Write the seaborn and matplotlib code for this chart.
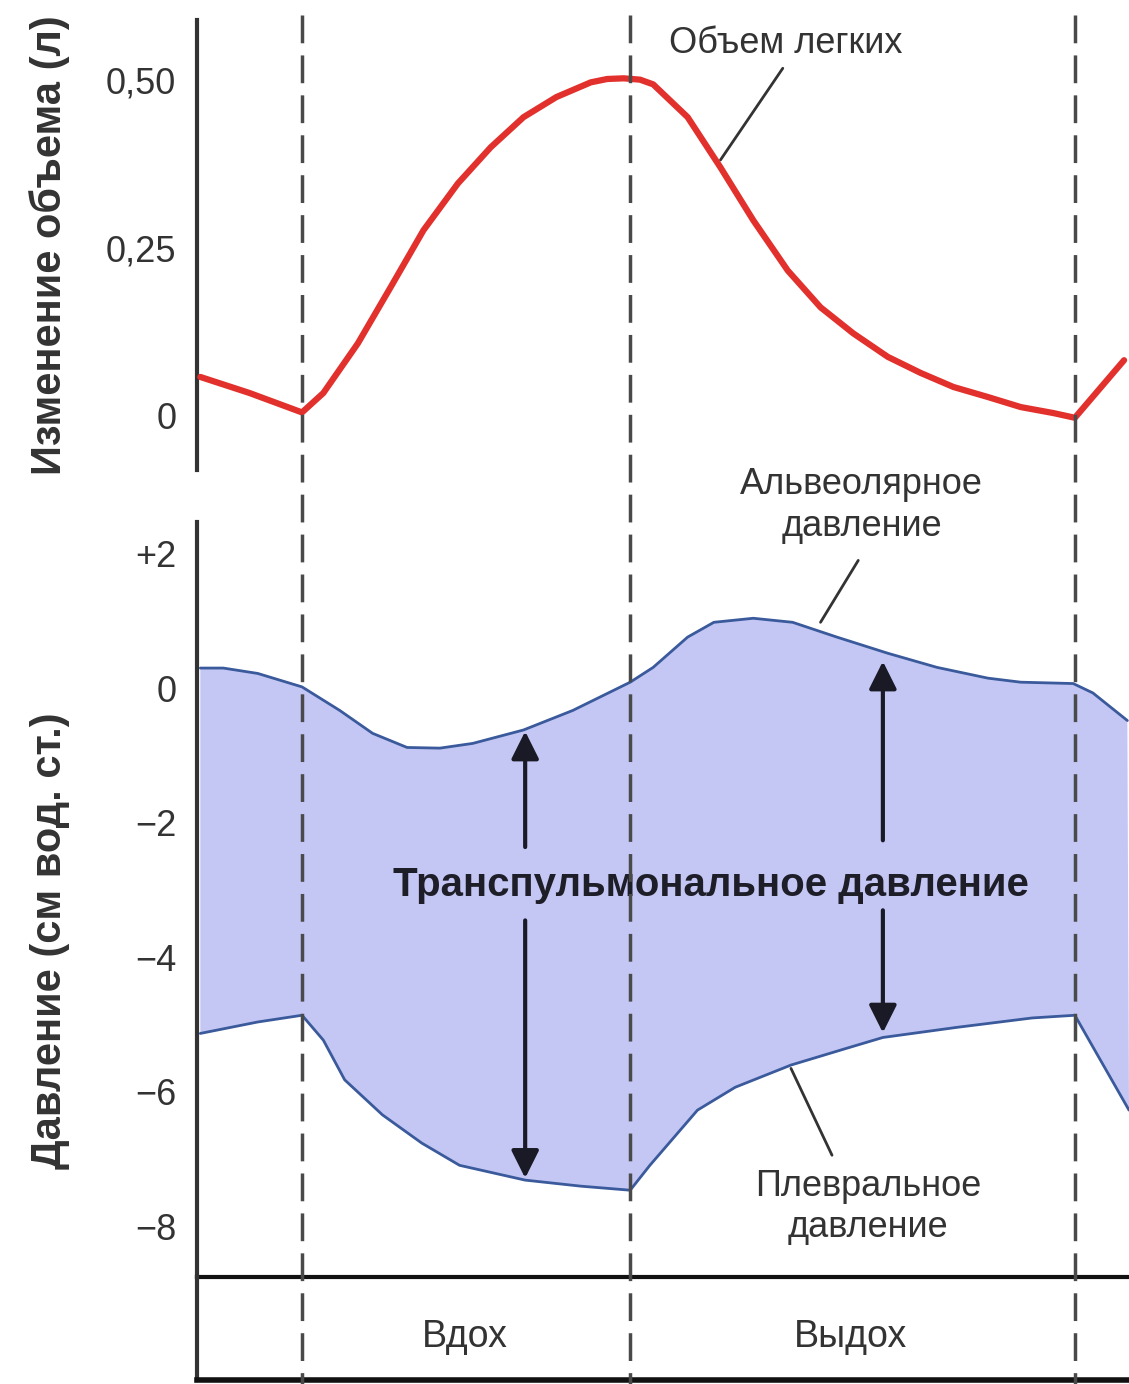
import numpy as np
import pandas as pd
import seaborn as sns
import matplotlib.pyplot as plt
from matplotlib.lines import Line2D
from matplotlib import transforms

# ========= 1) DATA (read off the reference) =========
# time axis (s), boundaries between phases
phase_bounds = [0.0, 2.0, 4.71]
phase_names = ["Вдох", "Выдох"]

# lung volume change (l)
vol_t = [-0.62, -0.32, 0.0, 0.13, 0.34, 0.54, 0.74, 0.95, 1.15, 1.35, 1.55, 1.76, 1.86,
         1.96, 2.06, 2.14, 2.35, 2.55, 2.75, 2.96, 3.16, 3.36, 3.57, 3.77, 3.97, 4.18,
         4.38, 4.58, 4.71, 5.01]
vol_l = [0.057, 0.033, 0.004, 0.033, 0.107, 0.191, 0.276, 0.346, 0.400, 0.445, 0.475, 0.497, 0.502,
         0.503, 0.501, 0.494, 0.445, 0.370, 0.291, 0.216, 0.161, 0.122, 0.087, 0.063, 0.042, 0.027,
         0.012, 0.003, -0.004, 0.082]

# alveolar pressure (cm H2O)
alv_t = [-0.62, -0.48, -0.27, 0.0, 0.23, 0.43, 0.64, 0.84, 1.04, 1.35, 1.65, 2.0,
         2.14, 2.35, 2.51, 2.75, 2.99, 3.26, 3.57, 3.87, 4.18, 4.38, 4.70, 4.82, 5.03]
alv_p = [0.30, 0.30, 0.22, 0.02, -0.33, -0.67, -0.88, -0.89, -0.82, -0.62, -0.33, 0.09,
         0.31, 0.76, 0.98, 1.04, 0.98, 0.76, 0.52, 0.31, 0.15, 0.09, 0.07, -0.07, -0.48]

# pleural pressure (cm H2O)
ple_t = [-0.62, -0.27, 0.0, 0.13, 0.26, 0.49, 0.73, 0.96, 1.36, 1.70, 2.0, 2.12,
         2.41, 2.64, 2.98, 3.32, 3.54, 3.99, 4.45, 4.71, 5.04]
ple_p = [-5.13, -4.96, -4.86, -5.23, -5.82, -6.34, -6.76, -7.09, -7.31, -7.40, -7.46, -7.09,
         -6.27, -5.93, -5.60, -5.35, -5.19, -5.04, -4.90, -4.86, -6.27]

vol_ticks = [0, 0.25, 0.50]
vol_ticklabels = ["0", "0,25", "0,50"]
p_ticks = [2, 0, -2, -4, -6, -8]
p_ticklabels = ["+2", "0", "\u22122", "\u22124", "\u22126", "\u22128"]

vol_df = pd.DataFrame({"t": vol_t, "v": vol_l})
alv_df = pd.DataFrame({"t": alv_t, "p": alv_p})
ple_df = pd.DataFrame({"t": ple_t, "p": ple_p})

# ========= 2) STYLE =========
sns.set_theme(style="white")
plt.rcParams["font.family"] = ["Liberation Sans", "DejaVu Sans"]

TXT = "#333333"
RED = "#e2302c"
FILL = "#c4c7f4"
EDGE = "#3a5a9c"
XLIM = (-0.64, 5.04)

fig = plt.figure(figsize=(11.29, 13.84), dpi=100)
ax_v = fig.add_axes([0.1745, 0.6604, 0.8255, 0.3251])
ax_p = fig.add_axes([0.1745, 0.0773, 0.8255, 0.5455])
ax_s = fig.add_axes([0.1745, 0.0029, 0.8255, 0.0744])

for ax in (ax_v, ax_p, ax_s):
    ax.set_xlim(*XLIM)
    ax.set_xticks([])
    ax.set_facecolor("none")
    for s in ("top", "right"):
        ax.spines[s].set_visible(False)
    ax.spines["left"].set_color(TXT)
    ax.spines["left"].set_linewidth(3)
    ax.tick_params(axis="y", direction="out", length=9, width=2.5, color=TXT,
                   labelsize=26, labelcolor=TXT, pad=6)
ax_v.spines["bottom"].set_visible(False)
ax_p.spines["bottom"].set_color("#111111")
ax_p.spines["bottom"].set_linewidth(3)
ax_s.spines["bottom"].set_color("#111111")
ax_s.spines["bottom"].set_linewidth(4)

# ========= 3) VOLUME PANEL =========
sns.lineplot(data=vol_df, x="t", y="v", ax=ax_v, color=RED, linewidth=4.5,
             estimator=None, sort=False, zorder=5, solid_joinstyle="round")
ax_v.set_ylim(-0.082, 0.59)
ax_v.set_yticks(vol_ticks)
ax_v.set_yticklabels(vol_ticklabels)
ax_v.set_xlabel("")
ax_v.set_ylabel("Изменение объема (л)", fontsize=30, fontweight="bold", color=TXT)
ax_v.yaxis.set_label_coords(-0.136, 0.5)
ax_v.text(2.95, 0.555, "Объем легких", ha="center", va="center", fontsize=26, color=TXT)
ax_v.plot([2.93, 2.55], [0.518, 0.381], color=TXT, lw=2)

# ========= 4) PRESSURE PANEL =========
ax_p.fill(np.concatenate([alv_t, ple_t[::-1]]), np.concatenate([alv_p, ple_p[::-1]]),
          color=FILL, lw=0, zorder=1)
sns.lineplot(data=alv_df, x="t", y="p", ax=ax_p, color=EDGE, linewidth=2,
             estimator=None, sort=False, zorder=5, solid_joinstyle="round")
sns.lineplot(data=ple_df, x="t", y="p", ax=ax_p, color=EDGE, linewidth=2,
             estimator=None, sort=False, zorder=5, solid_joinstyle="round")
ax_p.set_ylim(-8.75, 2.47)
ax_p.set_yticks(p_ticks)
ax_p.set_yticklabels(p_ticklabels)
ax_p.set_xlabel("")
ax_p.set_ylabel("Давление (см вод. ст.)", fontsize=30, fontweight="bold", color=TXT)
ax_p.yaxis.set_label_coords(-0.136, 0.446)

ax_p.text(2.49, -2.93, "Транспульмональное давление", ha="center", va="center",
          fontsize=29, fontweight="bold", color="#1e1e28", zorder=6)
ax_p.text(3.41, 2.72, "Альвеолярное\nдавление", ha="center", va="center",
          fontsize=26, color=TXT, linespacing=1.25)
ax_p.text(3.45, -7.71, "Плевральное\nдавление", ha="center", va="center",
          fontsize=26, color=TXT, linespacing=1.25)
ax_p.plot([3.39, 3.16], [1.90, 0.98], color=TXT, lw=2)
ax_p.plot([2.98, 3.23], [-5.65, -6.94], color=TXT, lw=2)

arrow = dict(arrowstyle="-|>", color="#1a1a26", lw=3, mutation_scale=42, shrinkA=0, shrinkB=0)
for x, y0, y1 in [(1.36, -2.36, -0.64), (1.36, -3.45, -7.28),
                  (3.54, -2.26, 0.40), (3.54, -3.30, -5.12)]:
    ax_p.annotate("", xy=(x, y1), xytext=(x, y0), arrowprops=arrow, zorder=6)

# ========= 5) PHASE STRIP =========
ax_s.set_ylim(0, 1)
ax_s.set_yticks([])
for i, name in enumerate(phase_names):
    mid = (phase_bounds[i] + phase_bounds[i + 1]) / 2
    ax_s.text(mid - 0.01, 0.42, name, ha="center", va="center", fontsize=27, color=TXT)

# dashed phase boundaries through all panels
tr = transforms.blended_transform_factory(ax_v.transData, fig.transFigure)
for b in phase_bounds:
    fig.add_artist(Line2D([b, b], [1 - 15 / 1384, 0], transform=tr, color="#4a4a4a",
                          lw=2.5, dashes=(8, 3.5), zorder=3))

fig.savefig("out.png", dpi=100)
